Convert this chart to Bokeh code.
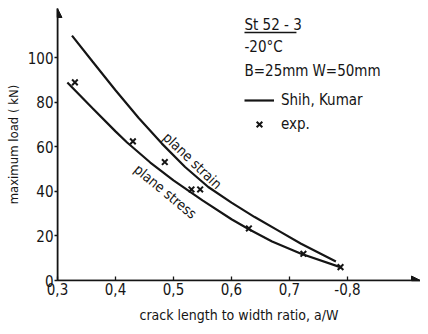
from bokeh.plotting import figure
from bokeh.models import Range1d, FixedTicker, Arrow, NormalHead, Label, Legend, LegendItem
from bokeh.embed import file_html
from bokeh.resources import INLINE

# ---- data ----
strain_aw = [0.325, 0.36, 0.40, 0.44, 0.48, 0.52, 0.56, 0.60, 0.64, 0.68, 0.72, 0.78]
strain_load = [110, 98.5, 85.5, 73, 61.5, 51, 42, 35, 28.5, 22.5, 16.5, 8.5]
stress_aw = [0.317, 0.36, 0.40, 0.42, 0.46, 0.50, 0.55, 0.60, 0.63, 0.67, 0.72, 0.79]
stress_load = [89, 77.5, 67, 62, 53, 45, 36, 27.5, 23, 17.5, 12, 5.8]
exp_aw = [0.33, 0.43, 0.485, 0.531, 0.546, 0.63, 0.724, 0.788]
exp_load = [89, 62.5, 53.2, 40.9, 40.9, 23.4, 12, 6]
x_ticks = [0.3, 0.4, 0.5, 0.6, 0.7, 0.8]
x_tick_labels = ["0,3", "0,4", "0,5", "0,6", "0,7", "-0,8"]
y_ticks = [0, 20, 40, 60, 80, 100]
y_tick_labels = ["0", "20", "40", "60", "80", "100"]

FONT = "'DejaVu Sans Condensed', 'Roboto', sans-serif"
INK = "#151515"
X_END = 0.9259
Y_END = 122.2

p = figure(width=420, height=326, output_backend="svg", toolbar_location=None,
           x_range=Range1d(0.3, X_END), y_range=Range1d(0, Y_END),
           min_border_left=57, min_border_right=0, min_border_top=8, min_border_bottom=46)
p.outline_line_color = None
p.grid.visible = False
p.background_fill_color = "white"
p.border_fill_color = "white"

# axes
p.xaxis.ticker = FixedTicker(ticks=x_ticks)
p.xaxis.major_label_overrides = {t: l for t, l in zip(x_ticks, x_tick_labels)}
p.yaxis.ticker = FixedTicker(ticks=y_ticks)
p.yaxis.major_label_overrides = {t: l for t, l in zip(y_ticks, y_tick_labels)}
for ax in (p.xaxis, p.yaxis):
    ax.axis_line_color = INK
    ax.axis_line_width = 1.6
    ax.major_tick_line_color = INK
    ax.major_tick_line_width = 1.3
    ax.minor_tick_line_color = None
    ax.major_label_text_font = FONT
    ax.major_label_text_font_size = "15px"
    ax.major_label_text_color = INK
    ax.axis_label_text_font = FONT
    ax.axis_label_text_font_style = "normal"
    ax.axis_label_text_color = INK
p.xaxis.major_tick_in = 4
p.xaxis.major_tick_out = 0
p.yaxis.major_tick_in = 0
p.yaxis.major_tick_out = 3
p.xaxis.major_label_standoff = 2
p.yaxis.major_label_standoff = 1
p.xaxis.axis_label = "crack length to width ratio, a/W"
p.yaxis.axis_label = "maximum load ( kN)"
p.xaxis.axis_label_standoff = 9
p.yaxis.axis_label_standoff = 4
p.xaxis.axis_label_text_font_size = "14px"
p.yaxis.axis_label_text_font_size = "13px"

# arrowheads on the axes
p.add_layout(Arrow(end=NormalHead(size=9, line_color=INK, fill_color=INK),
                   x_start=0.3, y_start=0, x_end=0.3, y_end=Y_END,
                   line_color=INK, line_width=1.6))
p.add_layout(Arrow(end=NormalHead(size=9, line_color=INK, fill_color=INK),
                   x_start=0.3, y_start=0, x_end=X_END, y_end=0,
                   line_color=INK, line_width=1.6))

# curves and experiments
r1 = p.line(strain_aw, strain_load, line_color=INK, line_width=2.2)
r2 = p.line(stress_aw, stress_load, line_color=INK, line_width=2.2)
r3 = p.scatter(exp_aw, exp_load, marker="x", size=8, line_color=INK, line_width=2)

legend = Legend(items=[LegendItem(label="Shih, Kumar", renderers=[r1]),
                       LegendItem(label="exp.", renderers=[r3])],
                location=(187, 146), padding=0, margin=0, spacing=4,
                glyph_width=30, glyph_height=20, label_height=20, label_standoff=7,
                background_fill_alpha=0, border_line_alpha=0,
                label_text_font=FONT, label_text_font_size="15px", label_text_color=INK)
p.add_layout(legend)

# curve labels
p.add_layout(Label(x=0.5328, y=53.9, text="plane strain", angle=-0.76,
                   text_align="center", text_baseline="middle",
                   text_font=FONT, text_font_size="14px", text_color=INK))
p.add_layout(Label(x=0.4862, y=40.0, text="plane stress", angle=-0.69,
                   text_align="center", text_baseline="middle",
                   text_font=FONT, text_font_size="14px", text_color=INK))

# specimen notes
p.add_layout(Label(x=0.6224, y=115.0, text="St 52 - 3", text_align="left", text_baseline="middle",
                   text_font=FONT, text_font_size="15px", text_color=INK))
p.segment(x0=[0.6224], y0=[111.4], x1=[0.712], y1=[111.4], line_color=INK, line_width=1.6)
p.add_layout(Label(x=0.6224, y=104.7, text="-20°C", text_align="left", text_baseline="middle",
                   text_font=FONT, text_font_size="15px", text_color=INK))
p.add_layout(Label(x=0.6224, y=94.3, text="B=25mm", text_align="left", text_baseline="middle",
                   text_font=FONT, text_font_size="15px", text_color=INK))
p.add_layout(Label(x=0.7397, y=94.3, text="W=50mm", text_align="left", text_baseline="middle",
                   text_font=FONT, text_font_size="15px", text_color=INK))

open("out.html", "w").write(file_html(p, INLINE))
